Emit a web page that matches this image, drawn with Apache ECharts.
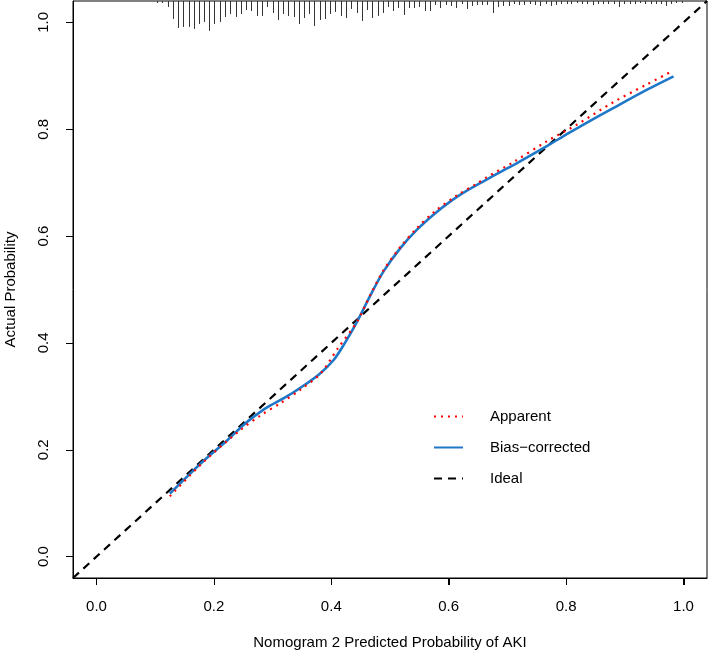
<!DOCTYPE html>
<html>
<head>
<meta charset="utf-8">
<script src="https://cdn.jsdelivr.net/npm/echarts@6/dist/echarts.min.js"></script>
<style>
html,body{margin:0;padding:0;background:#fff;}
#chart{width:709px;height:655px;}
</style>
</head>
<body>
<div id="chart"></div>
<script>
// ---- data ----
var tickValues = [0, 0.2, 0.4, 0.6, 0.8, 1.0];
var axisMin = -0.04, axisMax = 1.04;

var apparentX = [0.125,0.183,0.245,0.279,0.313,0.348,0.382,0.410,0.444,0.467,0.489,0.518,0.546,0.575,0.614,0.649,0.663,0.711,0.768,0.819,0.881,0.938,0.976];
var apparentY = [0.113,0.178,0.237,0.264,0.287,0.313,0.343,0.388,0.440,0.491,0.536,0.580,0.615,0.645,0.676,0.699,0.709,0.739,0.778,0.809,0.851,0.884,0.906];

var biasX = [0.125,0.150,0.183,0.223,0.250,0.268,0.290,0.320,0.350,0.380,0.404,0.421,0.444,0.467,0.489,0.518,0.546,0.575,0.603,0.631,0.660,0.690,0.720,0.768,0.800,0.825,0.881,0.938,0.983];
var biasY = [0.118,0.145,0.180,0.218,0.246,0.262,0.279,0.297,0.318,0.342,0.368,0.396,0.440,0.490,0.534,0.578,0.612,0.641,0.665,0.685,0.703,0.721,0.739,0.769,0.790,0.806,0.840,0.874,0.899];

var idealX = [-0.04, 1.04];
var idealY = [-0.04, 1.04];

// rug (distribution of predicted probabilities) : positions and relative frequencies
var rugX = [0.103,0.112,0.121,0.130,0.139,0.148,0.157,0.166,0.175,0.184,0.192,0.201,0.210,0.219,0.228,0.237,0.246,0.255,0.264,0.273,0.282,0.291,0.300,0.309,0.318,0.327,
0.336,0.345,0.353,0.362,0.371,0.380,0.389,0.398,0.407,0.416,0.425,0.434,0.443,0.452,0.461,0.470,0.479,0.488,0.497,0.505,0.514,0.523,0.532,0.541,0.550,0.559,
0.568,0.577,0.586,0.595,0.604,0.613,0.622,0.631,0.640,0.649,0.657,0.666,0.675,0.684,0.693,0.702,0.711,0.720,0.729,0.738,0.747,0.756,0.765,0.774,0.783,
0.792,0.801,0.809,0.818,0.827,0.836,0.845,0.854,0.863,0.872,0.881,0.890,0.899,0.908,0.917,0.926,0.935,0.944,0.953,0.961,0.970,0.979,0.988,0.997,1.006];
var rugFreq = [2,2,6,18,27,26,26,28,23,21,30,23,21,16,13,16,13,9,10,15,15,6,12,19,13,15,
16,23,17,13,25,19,18,13,11,15,17,8,12,20,9,17,15,12,6,10,7,14,7,7,6,10,
10,4,7,4,5,7,3,8,5,4,4,4,12,6,5,5,3,4,4,3,4,5,3,5,4,
3,3,3,2,3,3,4,3,3,3,3,6,3,3,3,2,3,3,3,3,5,3,2,2];

var xTitle = 'Nomogram 2 Predicted Probability of AKI';
var yTitle = 'Actual Probability';
var legendNames = ['Apparent', 'Bias\u2212corrected', 'Ideal'];

// ---- build ----
function pairs(xs, ys){ return xs.map(function(x,i){ return [x, ys[i]]; }); }
var rugData = rugX.map(function(x,i){ return [x, rugFreq[i]]; });
var rugUnit = 1/536; // y-units per frequency unit
var TICK_LEN = 7;

var FONT = '"Liberation Sans", Arial, sans-serif';
var chart = echarts.init(document.getElementById('chart'), null, {renderer:'canvas'});

function makeAxis(name, nameGap, labelMargin, labelRotate){
  return {
    type: 'value',
    min: axisMin, max: axisMax,
    splitLine: {show:false},
    axisLine: {show:true, onZero:false, lineStyle:{color:'#000', width:1}},
    axisTick: {show:true, inside:false, customValues: tickValues.slice(), length: TICK_LEN, lineStyle:{color:'#000', width:1}},
    axisLabel: {customValues: tickValues.slice(), color:'#000', fontFamily: FONT, fontSize: 15,
      margin: labelMargin, rotate: labelRotate,
      formatter: function(v){ return v.toFixed(1); }},
    name: name,
    nameGap: nameGap,
    nameLocation: 'middle',
    nameTextStyle: {color:'#000', fontFamily: FONT, fontSize: 15}
  };
}

var option = {
  animation: false,
  backgroundColor: '#fff',
  grid: {left: 73, right: 2, top: 1, bottom: 77, containLabel: false, outerBoundsMode: 'none',
         show: true, borderColor: '#000', borderWidth: 1, backgroundColor: 'transparent'},
  xAxis: makeAxis(xTitle, 57, 21, 0),
  yAxis: makeAxis(yTitle, 55, 22, 90),
  legend: {
    data: legendNames,
    orient: 'vertical',
    left: 433, top: 409,
    padding: 0,
    itemWidth: 29, itemHeight: 14, itemGap: 16,
    itemStyle: {opacity: 0},
    textStyle: {color:'#000', fontFamily: FONT, fontSize: 15, padding: [0,0,0,22]},
    selectedMode: false
  },
  series: [
    {
      name: legendNames[2], type: 'line', data: pairs(idealX, idealY),
      symbol: 'none', silent: true,
      lineStyle: {color:'#000', width: 2.2, type: [8, 6]},
      itemStyle: {color:'#000'}, z: 3
    },
    {
      name: legendNames[1], type: 'line', data: pairs(biasX, biasY),
      symbol: 'none', smooth: 0.3, silent: true,
      lineStyle: {color:'#1F77C8', width: 2.6, type: 'solid'},
      itemStyle: {color:'#1F77C8'}, z: 4
    },
    {
      name: legendNames[0], type: 'line', data: pairs(apparentX, apparentY),
      symbol: 'none', smooth: 0.3, silent: true,
      lineStyle: {color:'#FF0000', width: 2.2, type: [2, 5]},
      itemStyle: {color:'#FF0000'}, z: 5
    },
    {
      name: 'rug', type: 'custom', data: rugData, silent: true, z: 2,
      renderItem: function(params, api){
        var x = api.value(0), f = api.value(1);
        var p1 = api.coord([x, axisMax]);
        var p2 = api.coord([x, axisMax - f * rugUnit]);
        var px = Math.round(p1[0]) + 0.5;
        return {type:'line', shape:{x1: px, y1: p1[1], x2: px, y2: p2[1]},
                style:{stroke:'#333', lineWidth: 1}};
      }
    },
    {
      name: 'xticks', type: 'custom', data: tickValues.map(function(v){ return [v, axisMin]; }),
      silent: true, clip: false, zlevel: 1, z: 10,
      renderItem: function(params, api){
        var p = api.coord([api.value(0), api.value(1)]);
        var px = Math.round(p[0]) + 0.5;
        return {type:'line', shape:{x1: px, y1: p[1], x2: px, y2: p[1] + TICK_LEN},
                style:{stroke:'#000', lineWidth: 1}};
      }
    }
  ]
};
chart.setOption(option);
</script>
</body>
</html>
